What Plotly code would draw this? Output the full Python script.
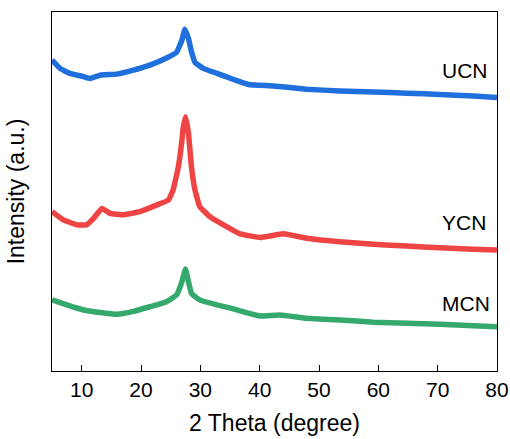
import plotly.graph_objects as go

# 2 Theta positions (degree) and intensities (a.u., offset stacked)
ucn_x = [5, 6.35, 8.0, 10.3, 11.4, 13.1, 15.9, 18.7, 21.5, 24.3, 26.0, 26.9, 27.4, 28.0, 28.5, 29.1, 30.5, 32.8, 35.6, 38.1,
         42.3, 47.9, 53.5, 59.2, 64.8, 70.4, 76, 80]
ucn_y = [86.6, 84.3, 82.9, 82.0, 81.5, 82.4, 82.7, 83.8, 85.2, 87.2, 88.8, 92.2, 95.2, 92.6, 89.0, 86.0, 84.3, 82.9, 81.2, 79.8,
         79.4, 78.5, 78.0, 77.7, 77.4, 77.0, 76.6, 76.2]

ycn_x = [5, 6.9, 9.2, 10.8, 12.0, 13.4, 14.8, 17.0, 19.8, 22.6, 24.6, 25.4, 26.3, 26.9, 27.1, 27.5, 28.0, 28.5, 29.1, 29.9,
         31.6, 33.9, 36.7, 40.1, 44.0, 47.9, 53.5, 59.2, 64.8, 70.4, 76, 80]
ycn_y = [44.4, 42.1, 40.7, 40.7, 42.5, 45.3, 43.9, 43.5, 44.4, 46.2, 47.6, 50.4, 56.9, 64.3, 67.6, 70.8, 66.2, 56.9, 50.4, 45.8,
         43.0, 40.7, 38.2, 37.2, 38.2, 37.0, 36.0, 35.3, 34.8, 34.3, 33.9, 33.7]

mcn_x = [5, 7.5, 10.3, 13.1, 15.9, 18.7, 21.5, 24.3, 26.0, 26.9, 27.5, 28.0, 28.5, 29.9, 32.8, 35.6, 38.1, 40.1, 43.4,
         47.9, 53.5, 59.2, 64.8, 70.4, 76, 80]
mcn_y = [19.8, 18.4, 17.0, 16.3, 15.8, 16.6, 17.9, 19.3, 21.2, 24.9, 28.4, 24.9, 21.6, 19.8, 18.4, 17.3, 16.1, 15.3, 15.6,
         14.7, 14.2, 13.6, 13.3, 13.0, 12.6, 12.3]

labels = ["UCN", "YCN", "MCN"]
label_x = [74.6, 74.4, 74.8]
label_y = [83.8, 41.5, 18.9]
colors = ["#1f6fdc", "#ef4444", "#35a96b"]

fig = go.Figure()
for xs, ys, c, name in [(ucn_x, ucn_y, colors[0], labels[0]),
                        (ycn_x, ycn_y, colors[1], labels[1]),
                        (mcn_x, mcn_y, colors[2], labels[2])]:
    fig.add_trace(go.Scatter(x=xs, y=ys, mode="lines", name=name,
                             line=dict(color=c, width=5.5, shape="spline", smoothing=0.3),
                             showlegend=False, hoverinfo="skip"))

for t, lx, ly in zip(labels, label_x, label_y):
    fig.add_annotation(x=lx, y=ly, text=t, showarrow=False,
                       font=dict(size=21, color="black", family="Liberation Sans, Arial"))

fig.update_layout(
    width=510, height=439,
    margin=dict(l=52, r=13, t=12, b=68),
    plot_bgcolor="white", paper_bgcolor="white",
    font=dict(family="Liberation Sans, Arial", size=21, color="black"),
)
fig.update_xaxes(range=[5, 80], tickvals=[10, 20, 30, 40, 50, 60, 70, 80],
                 ticks="inside", ticklen=6, tickcolor="black", tickwidth=1,
                 showline=True, linecolor="black", linewidth=1, mirror=True,
                 showgrid=False, zeroline=False, automargin=False,
                 title=dict(text="2 Theta (degree)", font=dict(size=23), standoff=14),
                 tickfont=dict(size=21))
fig.update_yaxes(range=[0, 100], showticklabels=False, ticks="",
                 showline=True, linecolor="black", linewidth=1, mirror=True,
                 showgrid=False, zeroline=False, automargin=False,
                 title=dict(text="Intensity (a.u.)", font=dict(size=23), standoff=19))

fig.write_html("out.html", config={"displayModeBar": False},
               post_script="document.body.style.margin='0';")
